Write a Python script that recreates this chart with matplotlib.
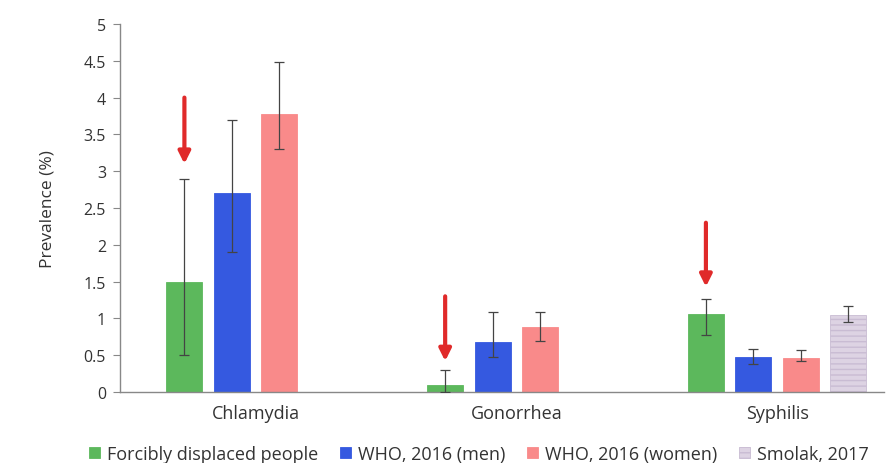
import matplotlib
matplotlib.use("Agg")
import matplotlib.pyplot as plt
import numpy as np

categories = ["Chlamydia", "Gonorrhea", "Syphilis"]
series = ["Forcibly displaced people", "WHO, 2016 (men)", "WHO, 2016 (women)", "Smolak, 2017"]
# values per series (None = no bar)
displaced = [1.5, 0.1, 1.06]
displaced_lo = [0.5, 0.0, 0.77]
displaced_hi = [2.9, 0.3, 1.27]
who_men = [2.7, 0.68, 0.47]
who_men_lo = [1.9, 0.48, 0.38]
who_men_hi = [3.7, 1.09, 0.58]
who_women = [3.78, 0.88, 0.46]
who_women_lo = [3.3, 0.69, 0.42]
who_women_hi = [4.48, 1.09, 0.57]
smolak = [None, None, 1.04]
smolak_lo = [None, None, 0.95]
smolak_hi = [None, None, 1.17]
# arrows (start, end) above the displaced-people bars
arrow_start = [4.0, 1.3, 2.3]
arrow_end = [3.1, 0.42, 1.43]

plt.rcParams['font.family'] = ['Open Sans', 'DejaVu Sans']
fig = plt.figure(figsize=(8.92, 4.64), dpi=100)
ax = fig.add_axes([120/892, (464-393)/464, (884-120)/892, (393-25)/464])

colors = ["#5cb85c", "#3559e0", "#f98a8a", "#ddd3e3"]
hatches = [None, None, None, "---"]
edge = ["#5cb85c", "#3559e0", "#f98a8a", "#c9bcd3"]
data = [(displaced, displaced_lo, displaced_hi),
        (who_men, who_men_lo, who_men_hi),
        (who_women, who_women_lo, who_women_hi),
        (smolak, smolak_lo, smolak_hi)]
x = np.arange(len(categories))
slot = 0.182
width = 0.138
handles = []
for i, (vals, lo, hi) in enumerate(data):
    xs, vs, el, eh = [], [], [], []
    for j in range(len(categories)):
        if vals[j] is None:
            continue
        xs.append(x[j] + (i - 1.5) * slot)
        vs.append(vals[j])
        el.append(vals[j] - lo[j])
        eh.append(hi[j] - vals[j])
    b = ax.bar(xs, vs, width, color=colors[i], edgecolor=edge[i], linewidth=0.6,
               hatch=hatches[i], label=series[i], zorder=2)
    ax.errorbar(xs, vs, yerr=[el, eh], fmt="none", ecolor="#444444",
                elinewidth=0.9, capsize=3.5, capthick=0.9, zorder=3)
    handles.append(b)

for j in range(len(categories)):
    xa = x[j] - 1.5 * slot
    ax.annotate("", xy=(xa, arrow_end[j]), xytext=(xa, arrow_start[j]),
                arrowprops=dict(arrowstyle="-|>,head_length=0.7,head_width=0.35",
                                color="#e02a2a", lw=3, shrinkA=0, shrinkB=0),
                zorder=4)

ax.set_ylim(0, 5)
ax.set_xlim(-0.52, 2.41)
ax.set_yticks(np.arange(0, 5.01, 0.5))
ax.set_yticklabels(["0", "0.5", "1", "1.5", "2", "2.5", "3", "3.5", "4", "4.5", "5"])
ax.set_xticks(x)
ax.set_xticklabels(categories, fontsize=13, color="#333333")
ax.tick_params(axis="x", length=0, pad=9)
ax.tick_params(axis="y", labelsize=11.5, colors="#333333", length=5, width=0.8, direction="out", pad=5)
for s in ["top", "right"]:
    ax.spines[s].set_visible(False)
for s in ["left", "bottom"]:
    ax.spines[s].set_color("#888888")
    ax.spines[s].set_linewidth(1.0)
ax.tick_params(axis="y", color="#888888")
ax.set_ylabel("Prevalence (%)", fontsize=12.5, color="#333333", labelpad=20)

fig.legend(handles=handles, labels=series, loc="lower center", ncol=4, frameon=False,
           bbox_to_anchor=(0.537, -0.035), fontsize=13, handlelength=0.6, handleheight=0.6,
           handletextpad=0.4, columnspacing=1.2, labelcolor="#333333")

fig.savefig("out.png", dpi=100)
